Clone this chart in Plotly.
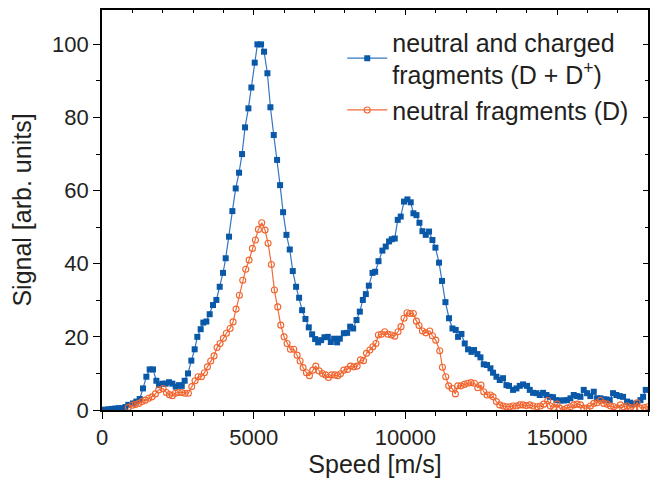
import plotly.graph_objects as go

# Speed [m/s] and signal for neutral + charged fragments (D + D+)
speed_total = [0, 110, 220, 330, 440, 550, 660, 770, 867, 1022, 1130, 1243, 1352, 1462, 1572, 1682,
               1792, 1880, 1990, 2100, 2210, 2320, 2430, 2540, 2630, 2725, 2835, 2945, 3055, 3143,
               3253, 3341, 3440, 3550, 3660, 3770, 3880, 3990, 4078, 4188, 4298, 4408, 4518, 4617,
               4716, 4826, 4925, 5035, 5123, 5244, 5343, 5453, 5552, 5662, 5772, 5871, 5970, 6080,
               6190, 6289, 6399, 6498, 6597, 6707, 6817, 6927, 7026, 7125, 7224, 7334, 7444, 7543,
               7653, 7752, 7840, 7972, 8082, 8181, 8280, 8390, 8500, 8599, 8698, 8797, 8918, 9006,
               9116, 9244, 9354, 9464, 9552, 9651, 9750, 9848, 9957, 10068, 10178, 10267, 10366,
               10465, 10564, 10673, 10782, 10893, 10992, 11111, 11210, 11322, 11441, 11553, 11662,
               11738, 11850, 11959, 12067, 12180, 12265, 12377, 12476, 12585, 12694, 12806, 12892,
               13003, 13112, 13221, 13333, 13419, 13551, 13663, 13772, 13881, 14013, 14102, 14211,
               14323, 14432, 14541, 14652, 14761, 14870, 14982, 15114, 15224, 15331, 15443, 15552,
               15661, 15773, 15882, 15991, 16100, 16212, 16321, 16430, 16541, 16628, 16738, 16848,
               16958, 17068, 17178, 17310, 17420, 17530, 17640, 17751, 17839, 17926]
signal_total = [0.0, 0.1, 0.2, 0.3, 0.4, 0.5, 0.5, 0.8, 1.4, 1.8, 2.3, 3.0, 5.9, 9.1, 11.1, 11.1,
                8.0, 6.8, 7.2, 7.2, 7.6, 7.2, 6.4, 6.8, 6.6, 8.0, 10.0, 13.5, 16.6, 20.0,
                22.1, 23.9, 24.2, 26.2, 28.7, 30.1, 33.7, 37.5, 41.5, 47.4, 54.4, 60.6, 64.9, 70.0,
                77.3, 82.5, 88.2, 95.0, 100.0, 100.0, 98.0, 92.1, 82.8, 75.2, 68.4, 61.5, 54.1, 47.9,
                43.9, 38.0, 33.7, 30.7, 27.3, 24.9, 22.6, 20.7, 19.4, 18.5, 19.1, 19.9, 20.0, 18.6,
                19.5, 18.5, 19.5, 21.0, 21.1, 22.8, 22.3, 24.6, 26.9, 30.1, 31.7, 34.0, 37.5, 37.8,
                40.7, 43.6, 44.7, 46.1, 46.7, 46.9, 52.0, 52.9, 57.0, 57.6, 56.8, 53.8, 53.3,
                51.2, 48.9, 47.9, 48.8, 46.5, 44.4, 40.3, 35.3, 29.5, 25.1, 22.3, 21.9,
                20.0, 20.8, 18.2, 16.6, 15.9, 16.4, 15.3, 14.4, 12.5, 12.3, 11.4, 10.2,
                9.1, 8.2, 8.7, 6.8, 6.6, 5.5, 5.9, 6.6, 7.0, 6.6, 5.5, 4.7,
                4.6, 4.1, 4.7, 4.1, 3.6, 3.5, 2.7, 2.6, 2.6, 2.7, 3.2, 4.1,
                3.8, 3.6, 5.5, 4.6, 3.8, 5.0, 3.2, 3.2, 2.9, 2.9, 2.7, 4.6,
                4.1, 3.8, 3.6, 2.3, 2.0, 1.6, 1.8, 2.7, 3.6, 5.5]

# Speed [m/s] and signal for neutral fragments (D)
speed_neutral = [867, 1000, 1100, 1210, 1320, 1430, 1540, 1650, 1760, 1870, 2012, 2122, 2221, 2320,
                 2419, 2518, 2628, 2738, 2848, 2958, 3068, 3167, 3277, 3376, 3475, 3584, 3694, 3793,
                 3892, 4002, 4101, 4222, 4321, 4420, 4530, 4640, 4739, 4849, 4959, 5058, 5156, 5266,
                 5376, 5475, 5585, 5684, 5794, 5893, 6003, 6102, 6212, 6322, 6432, 6531, 6630, 6740,
                 6839, 6949, 7048, 7158, 7268, 7367, 7466, 7565, 7675, 7774, 7862, 7972, 8093, 8192,
                 8302, 8412, 8522, 8621, 8720, 8830, 8929, 9030, 9112, 9211, 9321, 9430, 9541, 9651,
                 9760, 9858, 9957, 10056, 10155, 10264, 10366, 10452, 10564, 10673, 10804, 10893,
                 11002, 11134, 11223, 11332, 11430, 11540, 11650, 11727, 11837, 11948, 12057, 12167,
                 12276, 12387, 12496, 12584, 12694, 12804, 12892, 13002, 13112, 13221, 13331, 13441,
                 13551, 13661, 13771, 13881, 13991, 14100, 14210, 14342, 14452, 14562, 14694, 14782,
                 14892, 15002, 15090, 15222, 15332, 15442, 15552, 15662, 15772, 15882, 15992, 16101,
                 16211, 16321, 16431, 16541, 16651, 16761, 16871, 16981, 17091, 17201, 17311, 17421,
                 17531, 17641, 17751, 17883, 17993]
signal_neutral = [0.7, 1.3, 1.5, 1.8, 2.3, 2.7, 3.2, 3.6, 4.4, 5.5, 5.9, 4.8, 4.2, 3.9,
                  4.6, 4.8, 4.8, 4.6, 4.6, 6.4, 8.0, 9.1, 9.1, 10.2, 11.8, 13.4, 14.8, 17.1,
                  18.2, 19.6, 21.0, 22.3, 24.1, 27.6, 31.4, 35.5, 38.5, 41.0, 44.2, 46.5, 49.4, 51.2,
                  49.2, 45.6, 39.8, 32.8, 28.2, 23.2, 20.0, 18.2, 16.6, 16.6, 15.0, 13.4, 11.6, 10.2,
                  9.4, 10.9, 12.0, 10.7, 10.0, 9.6, 8.9, 9.6, 9.6, 9.4, 9.9, 10.9, 11.1, 12.0,
                  11.8, 12.0, 13.7, 13.5, 15.5, 16.4, 17.3, 18.2, 20.5, 20.7, 21.4, 20.7, 20.5, 20.2,
                  21.4, 22.8, 25.1, 26.6, 26.4, 26.4, 24.3, 23.1, 21.6, 21.1, 21.6, 20.3,
                  19.1, 16.2, 11.7, 9.1, 6.6, 5.9, 4.4, 6.6, 6.6, 7.0, 7.3, 7.5,
                  7.3, 6.1, 6.8, 5.0, 4.1, 4.1, 3.6, 2.3, 1.4, 1.1, 0.9, 0.9,
                  1.1, 1.1, 1.4, 1.4, 1.2, 1.4, 1.1, 0.9, 1.1, 1.6, 2.6, 1.1,
                  0.7, 1.6, 0.5, 0.1, 0.5, 0.9, 1.4, 1.6, 1.4, 0.5, 0.5, 1.1,
                  1.8, 2.0, 2.6, 1.8, 1.6, 1.1, 0.9, 0.5, 1.4, 0.9, 1.1, 0.7,
                  0.5, 2.0, 0.5, 0.7, 0.9]

series_names = ["neutral and charged<br>fragments (D + D<sup>+</sup>)", "neutral fragments (D)"]
x_ticks = [0, 5000, 10000, 15000]
x_ticktext = ["0", "5000", "10000", "15000"]
y_ticks = [0, 20, 40, 60, 80, 100]
y_ticktext = ["0", "20", "40", "60", "80", "100"]

FONT = "Liberation Sans, Arial, Helvetica, sans-serif"
TXT = "#231f20"

fig = go.Figure()
fig.add_trace(go.Scatter(
    x=speed_total, y=signal_total, mode="lines+markers", name=series_names[0],
    line=dict(color="#3576c4", width=1.2),
    marker=dict(symbol="square", size=6, color="#0a58a8", line=dict(width=0)),
))
fig.add_trace(go.Scatter(
    x=speed_neutral, y=signal_neutral, mode="lines+markers", name=series_names[1],
    line=dict(color="#f26b3a", width=1.2),
    marker=dict(symbol="circle-open", size=6, color="#f0642d", line=dict(width=1.1)),
))
# empty trace so that the mirrored top/right axes get drawn
fig.add_trace(go.Scatter(x=[], y=[], xaxis="x2", yaxis="y2", showlegend=False, hoverinfo="skip"))

axis_common = dict(showgrid=False, zeroline=False, showline=True, linecolor="black", linewidth=1.6,
                   tickcolor="black", tickwidth=1.3, automargin=False)

# the page body adds an 8 px offset, so the figure is 8 px smaller with shifted margins
fig.update_layout(
    width=652, height=477,
    margin=dict(l=94, r=12, t=2, b=75),
    paper_bgcolor="white", plot_bgcolor="white",
    font=dict(family=FONT, size=22, color=TXT),
    showlegend=True,
    legend=dict(x=0.44, y=0.977, xanchor="left", yanchor="top", bgcolor="rgba(0,0,0,0)",
                font=dict(family=FONT, size=25, color=TXT), tracegroupgap=2, itemwidth=40),
    xaxis=dict(range=[0, 18000], tickvals=x_ticks, ticktext=x_ticktext, ticks="outside", ticklen=7,
               minor=dict(dtick=1000, ticks="outside", ticklen=4, tickcolor="black", tickwidth=1.2),
               title=dict(text="Speed [m/s]", font=dict(size=25), standoff=6),
               tickfont=dict(size=22), **axis_common),
    yaxis=dict(range=[0, 109.4], tickvals=y_ticks, ticktext=y_ticktext, ticks="outside", ticklen=7,
               minor=dict(dtick=10, ticks="outside", ticklen=4, tickcolor="black", tickwidth=1.2),
               title=dict(text="Signal [arb. units]", font=dict(size=25), standoff=14),
               tickfont=dict(size=22), **axis_common),
    xaxis2=dict(range=[0, 18000], overlaying="x", side="top", anchor="y", tickvals=x_ticks,
                ticks="inside", ticklen=5, showticklabels=False,
                minor=dict(dtick=1000, ticks="inside", ticklen=3, tickcolor="black", tickwidth=1.2),
                **axis_common),
    yaxis2=dict(range=[0, 109.4], overlaying="y", side="right", anchor="x", tickvals=y_ticks,
                ticks="inside", ticklen=5, showticklabels=False,
                minor=dict(dtick=10, ticks="inside", ticklen=3, tickcolor="black", tickwidth=1.2),
                **axis_common),
)

fig.write_html("out.html")
